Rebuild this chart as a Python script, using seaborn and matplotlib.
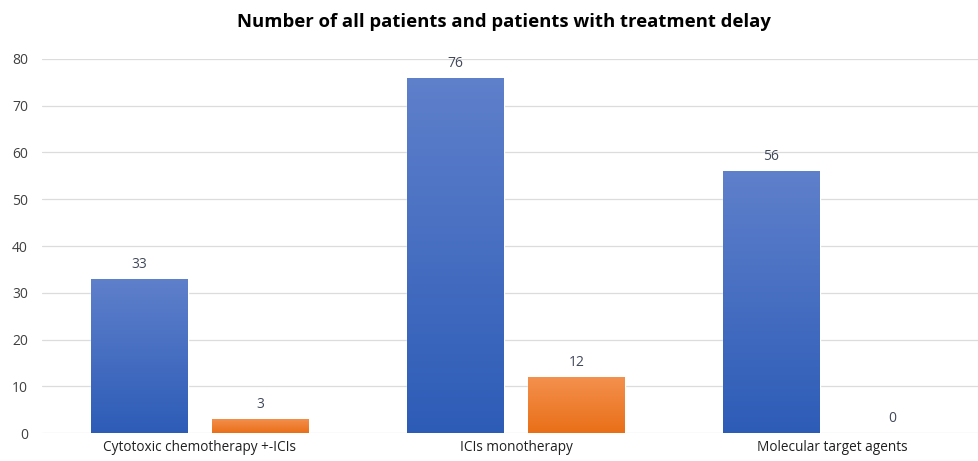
import numpy as np
import pandas as pd
import matplotlib
matplotlib.use("Agg")
import matplotlib.pyplot as plt
import seaborn as sns
from matplotlib.colors import LinearSegmentedColormap

categories = ["Cytotoxic chemotherapy +-ICIs", "ICIs monotherapy", "Molecular target agents"]
all_patients = [33, 76, 56]
delayed_patients = [3, 12, 0]
series_names = ["All patients", "Patients with treatment delay"]
y_ticks = [0, 10, 20, 30, 40, 50, 60, 70, 80]
title = "Number of all patients and patients with treatment delay"

df = pd.DataFrame({
    "category": categories * 2,
    "value": all_patients + delayed_patients,
    "series": [series_names[0]] * 3 + [series_names[1]] * 3,
})

sns.set_theme(style="white")
plt.rcParams["font.family"] = ["Open Sans", "DejaVu Sans"]

fig = plt.figure(figsize=(9.79, 4.61), dpi=100)
ax = fig.add_axes([42 / 979, 1 - 433 / 461, (979 - 42) / 979, (433 - 59) / 461])

blue_mid = "#4470C4"
orange_mid = "#EE7E30"
sns.barplot(data=df, x="category", y="value", hue="series", order=categories,
            hue_order=series_names, palette=[blue_mid, orange_mid],
            width=0.766, gap=0.2, legend=False, ax=ax, saturation=1)

ax.set_xlim(-0.5, (979 - 200) / 316)
ax.set_ylim(0, 80)
ax.set_yticks(y_ticks)
ax.yaxis.grid(True, color="#DCDCDC", linewidth=0.9)
ax.set_axisbelow(True)
for s in ax.spines.values():
    s.set_visible(False)
ax.set_xlabel("")
ax.set_ylabel("")
ax.tick_params(axis="y", labelsize=10, labelcolor="#404040", length=0, pad=10)
ax.tick_params(axis="x", labelsize=9.8, labelcolor="#202020", length=0, pad=5)

# gradient fills
grads = [
    LinearSegmentedColormap.from_list("b", ["#2D5CB7", "#5F80CB"]),
    LinearSegmentedColormap.from_list("o", ["#E96F17", "#F4914F"]),
]
xl, yl = ax.get_xlim(), ax.get_ylim()
for cont, cmap in zip(ax.containers, grads):
    for p in cont.patches:
        x0, y0 = p.get_x(), p.get_y()
        w, h = p.get_width(), p.get_height()
        if h <= 0:
            continue
        grad = np.linspace(0, 1, 256).reshape(-1, 1)
        im = ax.imshow(grad, cmap=cmap, origin="lower", aspect="auto",
                       extent=[x0, x0 + w, y0, y0 + h], zorder=p.get_zorder() + 0.1)
        im.set_clip_path(p)
ax.set_xlim(xl)
ax.set_ylim(yl)

for cont in ax.containers:
    ax.bar_label(cont, padding=5, fontsize=10, color="#404859")

fig.text(504 / 979, 1 - 22 / 461, title, ha="center", va="center",
         fontsize=13.3, fontweight="bold", color="#000000")

fig.savefig("out.png", dpi=100)
